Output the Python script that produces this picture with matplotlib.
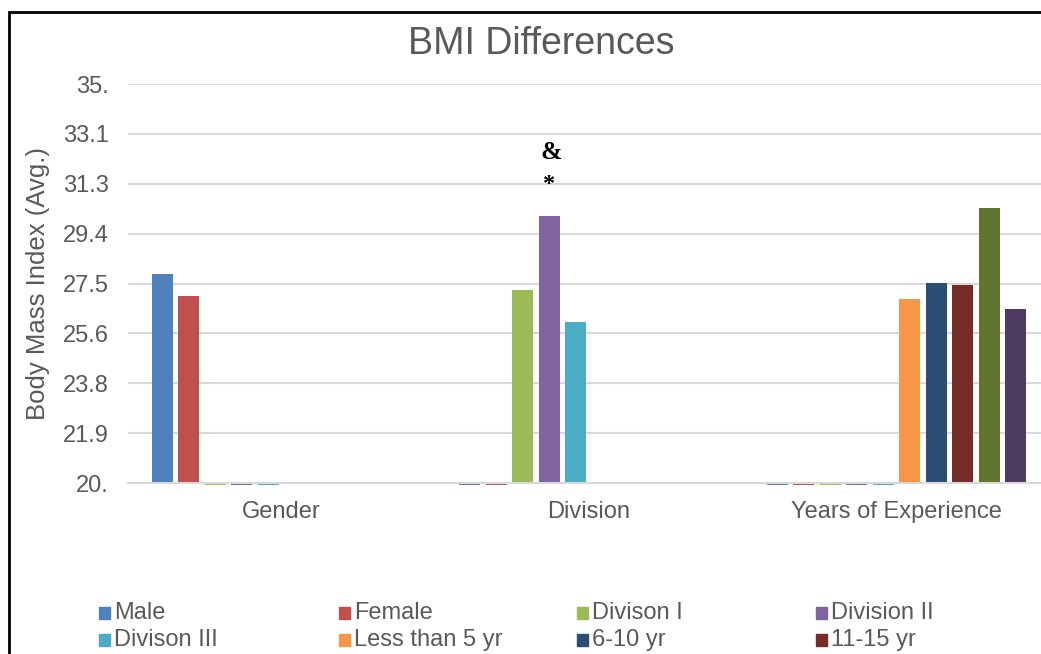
import numpy as np
import matplotlib
matplotlib.use("Agg")
import matplotlib.pyplot as plt
from matplotlib.patches import Rectangle

# chart data
categories = ["Gender", "Division", "Years of Experience"]
series_names = ["Male", "Female", "Divison I", "Division II", "Divison III",
                "Less than 5 yr", "6-10 yr", "11-15 yr", "16-20 yr", "More than 20 yr"]
series_colors = ["#4F81BD", "#C0504D", "#9BBB59", "#8064A2", "#4BACC6",
                 "#F79646", "#2C4D75", "#772C2A", "#5F7530", "#4D3B62"]
nan = np.nan
male = [27.85, 0, 0]
female = [27.03, 0, 0]
div_1 = [0, 27.24, 0]
div_2 = [0, 30.04, 0]
div_3 = [0, 26.04, 0]
yrs_lt5 = [nan, nan, 26.93]
yrs_6_10 = [nan, nan, 27.52]
yrs_11_15 = [nan, nan, 27.44]
yrs_16_20 = [nan, nan, 30.34]
yrs_gt20 = [nan, nan, 26.55]
all_series = [male, female, div_1, div_2, div_3,
              yrs_lt5, yrs_6_10, yrs_11_15, yrs_16_20, yrs_gt20]

y_ticks = [20, 21.875, 23.75, 25.625, 27.5, 29.375, 31.25, 33.125, 35]
y_tick_labels = ["20.", "21.9", "23.8", "25.6", "27.5", "29.4", "31.3", "33.1", "35."]
y_min, y_max = 20, 35

W, H = 1041, 654
text_gray = "#595959"
grid_gray = "#D9D9D9"
plt.rcParams['font.family'] = ['Liberation Sans', 'DejaVu Sans']

fig = plt.figure(figsize=(W / 100, H / 100), dpi=100)
ax = fig.add_axes([128 / W, 1 - 483 / H, 922 / W, (483 - 84) / H])

x = np.arange(len(categories))
step = 0.0862
bar_w = 0.0683
n = len(all_series)
for i, vals in enumerate(all_series):
    vals = np.array(vals, dtype=float)
    keep = ~np.isnan(vals)
    xs = x[keep] + (i - (n - 1) / 2) * step
    v = vals[keep]
    # zero values show up as a thin stub under the axis, like Excel does
    heights = np.where(v > y_min, v - y_min, -0.07)
    ax.bar(xs, heights, bottom=y_min, width=bar_w, color=series_colors[i],
           clip_on=False, zorder=2)

# significance markers over Division II
x_div2 = x[1] + (3 - (n - 1) / 2) * step
ax.text(x_div2 + 0.008, 32.18, "&", ha="center", va="baseline", fontsize=18.5,
        fontweight="bold", family="Liberation Serif", color="black")
ax.text(x_div2, 31.0, "*", ha="center", va="baseline", fontsize=17.5,
        fontweight="bold", family="Liberation Serif", color="black")

ax.set_xlim(-0.5, len(categories) - 0.5)
ax.set_ylim(y_min, y_max)
ax.set_xticks(x)
ax.set_xticklabels(categories)
ax.set_yticks(y_ticks)
ax.set_yticklabels(y_tick_labels)
ax.tick_params(axis="both", length=0, labelsize=17, labelcolor=text_gray)
ax.tick_params(axis="x", pad=13.3)
ax.tick_params(axis="y", pad=14)
ax.yaxis.grid(True, color=grid_gray, linewidth=1.5)
ax.set_axisbelow(True)
for s in ["top", "right", "left"]:
    ax.spines[s].set_visible(False)
ax.spines["bottom"].set_color(grid_gray)
ax.spines["bottom"].set_linewidth(1.5)

fig.text(541 / W, 1 - 54 / H, "BMI Differences", ha="center", va="baseline",
         fontsize=27, color=text_gray)
fig.text(38 / W, 1 - 283 / H, "Body Mass Index (Avg.)", rotation=90,
         ha="center", va="center", fontsize=18.5, color=text_gray)

# legend laid out in 4 equal columns like the Excel one (third row falls off the image)
col_x = [99, 339, 577, 816]
row_y = [613, 640, 690]
for i, name in enumerate(series_names):
    cx = col_x[i % 4]
    cy = row_y[i // 4]
    fig.add_artist(Rectangle((cx / W, 1 - (cy + 6) / H), 11 / W, 12 / H,
                             transform=fig.transFigure, color=series_colors[i]))
    fig.text((cx + 15) / W, 1 - cy / H, name, ha="left", va="center",
             fontsize=17, color=text_gray)

# chart border (cut off at right and bottom)
fig.add_artist(Rectangle((9 / W, -0.1), 1.2, 1.1 - 12 / H, transform=fig.transFigure,
                         fill=False, edgecolor="black", linewidth=2))

fig.savefig("out.png", dpi=100)
